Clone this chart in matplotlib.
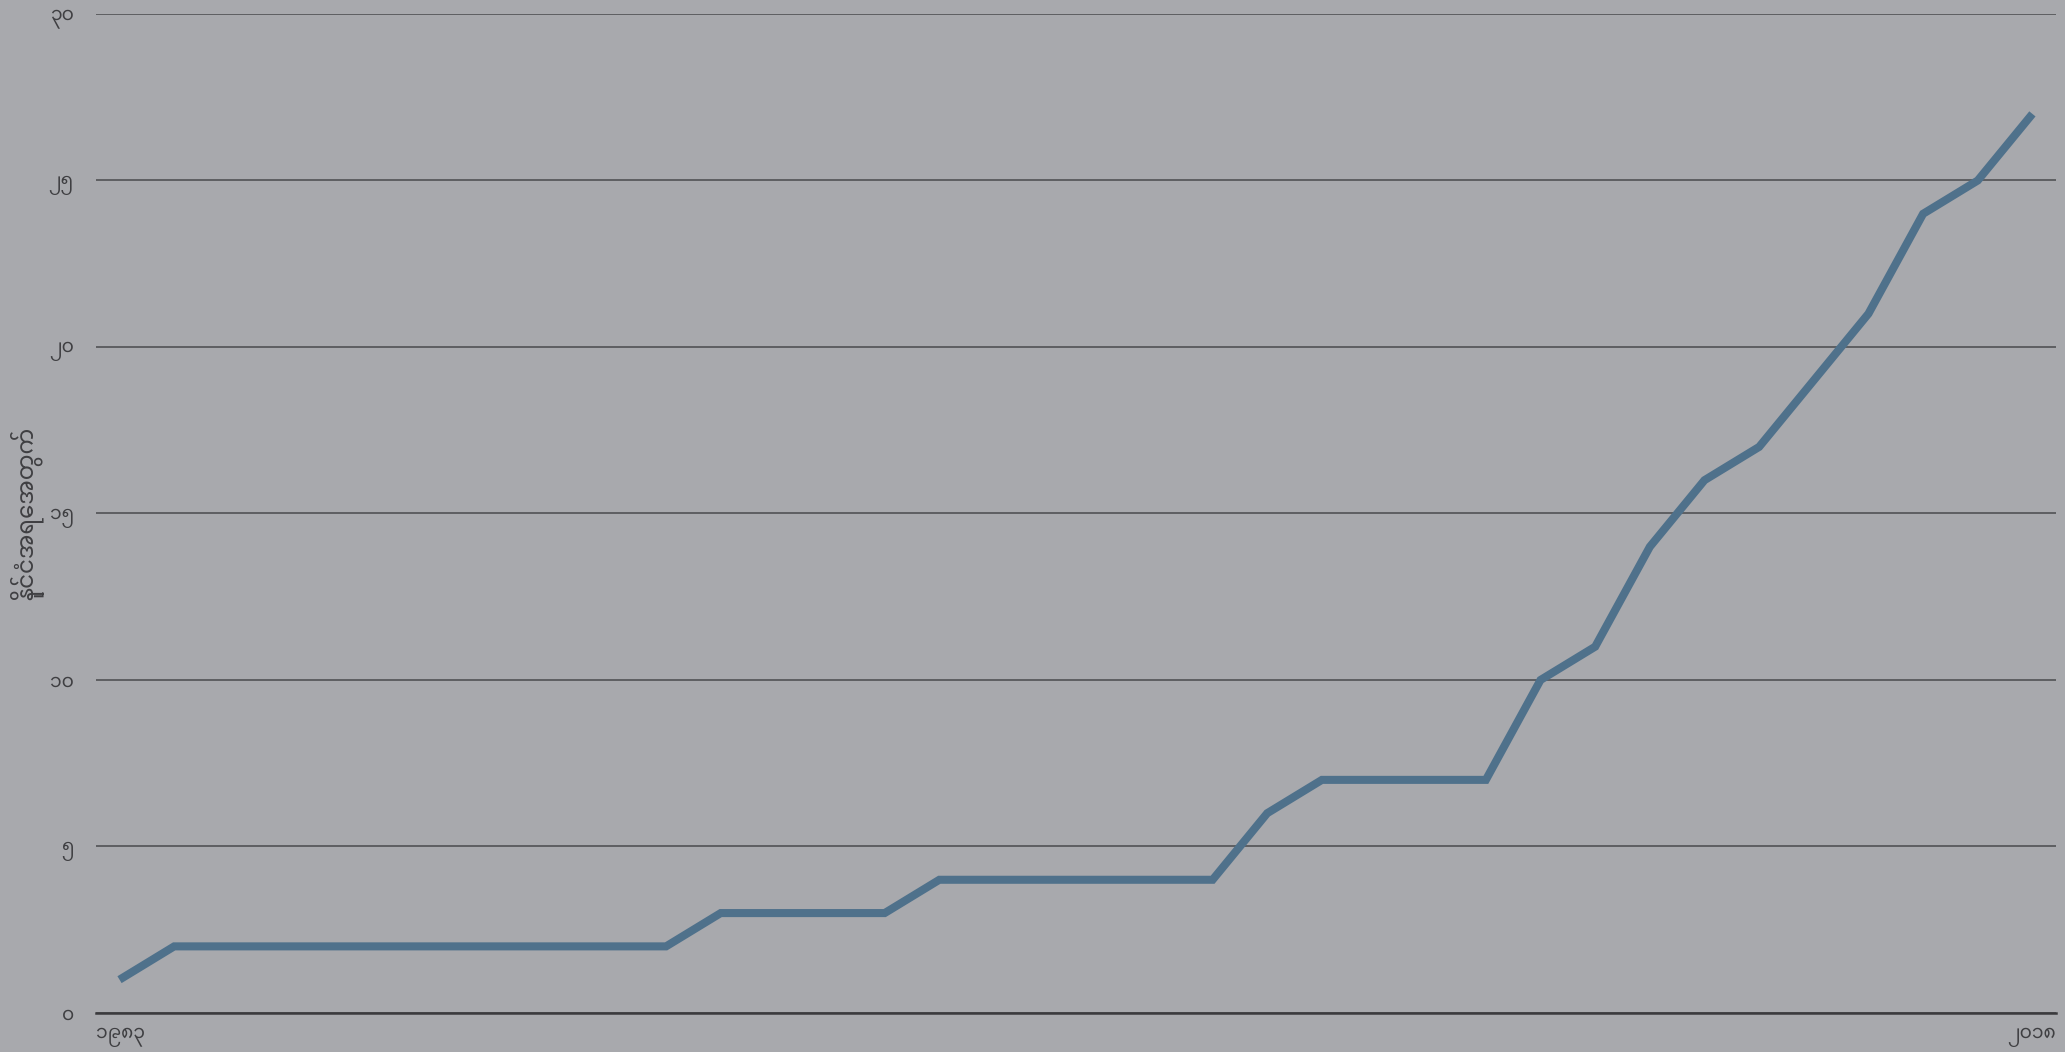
import matplotlib
matplotlib.use('Agg')
import matplotlib.pyplot as plt
import numpy as np

# data
years = np.arange(1983, 2019)
counts = [1, 2, 2, 2, 2, 2, 2, 2, 2, 2, 2,
          3, 3, 3, 3, 4, 4, 4, 4, 4, 4,
          6, 7, 7, 7, 7, 10, 11, 14, 16, 17, 19, 21, 24, 25, 27]
yticks = [0, 5, 10, 15, 20, 25, 30]
ytick_labels = ['၀', '၅', '၁၀', '၁၅', '၂၀', '၂၅', '၃၀']
xtick_labels = ['၁၉၈၃', '၂၀၁၈']
ylabel = 'နိုင်ငံအရေအတွက်'

bg = '#a8a9ad'
txt = '#3f3f42'
plt.rcParams['font.family'] = ['Noto Sans Myanmar', 'DejaVu Sans']

fig = plt.figure(figsize=(20.65, 10.52), dpi=100)
fig.patch.set_facecolor(bg)
ax = fig.add_axes([0.0465, 0.0371, 0.9491, 0.9496])
ax.set_facecolor(bg)

ax.plot(years, counts, color='#4f718b', lw=5.8, solid_joinstyle='miter',
        solid_capstyle='butt', zorder=3)

pad = 0.43
x0, x1 = years[0] - pad, years[-1] + pad
ax.set_xlim(x0, x1)
ax.set_ylim(0, 30)

ax.set_yticks(yticks)
ax.set_yticklabels(ytick_labels)
ax.yaxis.grid(True, color='#4a4a4d', lw=1.1)
ax.set_axisbelow(True)

ax.set_xticks([x0, x1])
ax.set_xticklabels(xtick_labels)
xl = ax.get_xticklabels()
xl[0].set_horizontalalignment('left')
xl[1].set_horizontalalignment('right')

ax.tick_params(axis='both', length=0, labelsize=13.5, colors=txt)
ax.tick_params(axis='y', pad=16)
ax.tick_params(axis='x', pad=11)

for s in ['top', 'right', 'left']:
    ax.spines[s].set_visible(False)
ax.spines['bottom'].set_color('#3a3a3d')
ax.spines['bottom'].set_linewidth(1.8)

ax.set_ylabel(ylabel, fontsize=16.5, color=txt, labelpad=4)

fig.savefig('out.png', facecolor=bg)
